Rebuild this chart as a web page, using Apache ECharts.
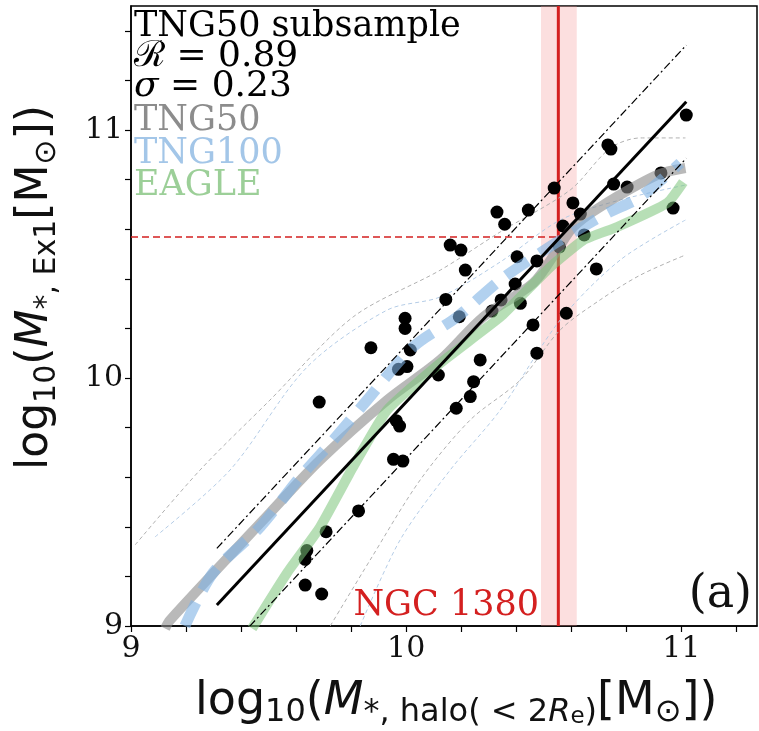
<!DOCTYPE html>
<html><head><meta charset="utf-8">
<script src="https://cdn.jsdelivr.net/npm/echarts@6/dist/echarts.min.js"></script>
<style>html,body{margin:0;padding:0;background:#fff}#c{width:759px;height:731px}</style>
</head><body><div id="c"></div>
<script>
// ---- data ----
const scatterX = [11.018,10.733,10.744,10.926,10.538,10.754,10.803,10.606,10.633,10.970,10.330,10.444,10.358,10.570,10.647,10.557,10.160,10.199,10.403,10.475,10.215,10.691,10.396,10.144,10.345,10.415,10.312,10.193,10.582,9.996,9.996,10.461,10.015,9.872,10.003,9.972,10.117,10.475,10.269,10.245,10.233,10.182,9.684,9.964,9.976,9.954,9.988,9.827,9.709,9.639,9.633,9.633,9.693];
const scatterY = [11.060,10.940,10.923,10.827,10.766,10.782,10.770,10.706,10.661,10.685,10.669,10.677,10.620,10.613,10.577,10.529,10.536,10.516,10.489,10.472,10.435,10.440,10.379,10.317,10.315,10.301,10.270,10.247,10.261,10.241,10.200,10.214,10.113,10.122,10.046,10.035,10.012,10.100,10.073,9.985,9.925,9.878,9.903,9.828,9.806,9.672,9.665,9.464,9.380,9.304,9.269,9.165,9.129];

const tng50X = [9.124,9.142,9.505,9.687,9.931,10.124,10.280,10.462,10.549,10.607,10.705,10.913,11.015];
const tng50Y = [8.99,9.024,9.456,9.669,9.911,10.073,10.246,10.383,10.516,10.609,10.690,10.819,10.847];
const tng100X = [9.196,9.298,9.469,9.615,9.735,9.858,10.025,10.185,10.342,10.487,10.560,10.731,10.851,10.996];
const tng100Y = [9.0,9.214,9.399,9.601,9.750,9.911,10.125,10.246,10.395,10.504,10.556,10.665,10.730,10.867];
const eagleX = [9.44,9.567,9.687,9.807,9.931,10.124,10.342,10.440,10.524,10.644,10.767,10.949,11.007];
const eagleY = [8.99,9.214,9.399,9.641,9.871,10.060,10.246,10.355,10.448,10.556,10.609,10.706,10.790];

const upperAX = [9.015,9.251,9.505,9.807,10.124,10.342,10.596,10.742,10.851,11.015];
const upperAY = [9.327,9.629,9.911,10.246,10.435,10.589,10.758,10.927,10.968,10.968];
const upperBX = [9.087,9.36,9.64,9.931,10.124,10.342,10.56,10.778,11.015];
const upperBY = [9.359,9.629,10.044,10.274,10.327,10.468,10.637,10.718,10.778];
const lowerAX = [9.724,9.869,10.051,10.233,10.415,10.56,10.705,10.851,11.015];
const lowerAY = [9.0,9.266,9.589,9.831,9.992,10.194,10.315,10.415,10.496];
const lowerBX = [9.833,9.978,10.16,10.342,10.56,10.778,11.015];
const lowerBY = [9.0,9.347,9.629,9.871,10.234,10.476,10.637];

const fitX = [9.312, 11.018];
const fitY = [9.085, 11.114];
const sigma = 0.228;

const ngcX = 10.553, ngcY = 10.569, ngcLow = 10.49, ngcHigh = 10.62;
const xTicks = [9, 10, 11];
const yTicks = [9, 10, 11];

const zip = (a, b) => a.map((v, i) => [v, b[i]]);

const chart = echarts.init(document.getElementById('c'), null, {renderer: 'canvas'});
const serif = 'DejaVu Serif';
const sans = 'DejaVu Sans';
const tickFmt = list => v => { const r = Math.round(v); return (Math.abs(v - r) < 1e-6 && list.includes(r)) ? String(r) : ''; };

function thin(x, y, color) {
  return {type: 'line', data: zip(x, y), showSymbol: false, smooth: 0.3, z: 1, silent: true,
    lineStyle: {color: color, width: 1, type: [4, 3]}};
}

const option = {
  animation: false,
  grid: {left: 131, right: 2, top: 6, bottom: 105, show: true, borderColor: '#000', borderWidth: 1.5},
  xAxis: {type: 'value', min: 9, max: 11.275, interval: 0.2,
    axisLine: {show: true, lineStyle: {color: '#000', width: 1.5}},
    axisTick: {show: true, length: 6, lineStyle: {color: '#000', width: 1.2}},
    axisLabel: {formatter: tickFmt(xTicks), fontFamily: serif, fontSize: 30, color: '#111', margin: 8, showMaxLabel: false},
    splitLine: {show: false}},
  yAxis: {type: 'value', min: 9, max: 11.5, interval: 0.2,
    axisLine: {show: true, lineStyle: {color: '#000', width: 1.5}},
    axisTick: {show: true, length: 6, lineStyle: {color: '#000', width: 1.2}},
    axisLabel: {formatter: tickFmt(yTicks), fontFamily: serif, fontSize: 30, color: '#111', margin: 8, showMaxLabel: false},
    splitLine: {show: false}},
  series: [
    {type: 'line', data: [[ngcX, 9], [ngcX, 11.5]], showSymbol: false, z: 1, silent: true,
      lineStyle: {color: '#d42020', width: 3},
      markArea: {silent: true, itemStyle: {color: 'rgba(245,150,150,0.3)'}, data: [[{xAxis: ngcLow}, {xAxis: ngcHigh}]]}},
    {type: 'line', data: [[9, ngcY], [ngcX, ngcY]], showSymbol: false, z: 1, silent: true,
      lineStyle: {color: '#d42020', width: 1.5, type: [7, 4]}},
    thin(upperAX, upperAY, '#b0b0b0'),
    thin(upperBX, upperBY, '#b4cce6'),
    thin(lowerAX, lowerAY, '#b0b0b0'),
    thin(lowerBX, lowerBY, '#b4cce6'),
    {type: 'scatter', data: zip(scatterX, scatterY), symbolSize: 13, z: 2,
      itemStyle: {color: '#000', opacity: 1}},
    {type: 'line', data: zip(tng50X, tng50Y), showSymbol: false, smooth: 0.3, z: 3,
      lineStyle: {color: '#8a8a8a', width: 10, opacity: 0.6}},
    {type: 'line', data: zip(tng100X, tng100Y), showSymbol: false, smooth: 0.3, z: 3,
      lineStyle: {color: '#7fb2e5', width: 11, opacity: 0.6, type: [26, 14]}},
    {type: 'line', data: zip(eagleX, eagleY), showSymbol: false, smooth: 0.15, z: 3,
      lineStyle: {color: '#7cc47a', width: 10, opacity: 0.55}},
    {type: 'line', data: zip(fitX, fitY), showSymbol: false, z: 4,
      lineStyle: {color: '#000', width: 3}},
    {type: 'line', data: zip(fitX, fitY.map(v => v + sigma)), showSymbol: false, z: 4,
      lineStyle: {color: '#000', width: 1.2, type: [8, 3, 2, 3]}},
    {type: 'line', data: zip(fitX, fitY.map(v => v - sigma)), showSymbol: false, z: 4,
      lineStyle: {color: '#000', width: 1.2, type: [8, 3, 2, 3]}}
  ],
  graphic: [
    {type: 'text', left: 134, top: 9, z: 10, style: {text: 'TNG50 subsample', font: '35px "DejaVu Serif"', fill: '#000'}},
    {type: 'text', left: 134, top: 39, z: 10, style: {text: 'ℛ = 0.89', font: '36px "DejaVu Serif"', fill: '#000'}},
    {type: 'text', left: 134, top: 69, z: 10, style: {text: '{i|σ} = 0.23', font: '36px "DejaVu Serif"', fill: '#000',
      rich: {i: {fontStyle: 'italic', fontFamily: serif, fontSize: 36, fill: '#000'}}}},
    {type: 'text', left: 134, top: 103, z: 10, style: {text: 'TNG50', font: '35px "DejaVu Serif"', fill: '#8c8c8c'}},
    {type: 'text', left: 134, top: 136, z: 10, style: {text: 'TNG100', font: '35px "DejaVu Serif"', fill: '#a3c6e8'}},
    {type: 'text', left: 134, top: 168, z: 10, style: {text: 'EAGLE', font: '35px "DejaVu Serif"', fill: '#9ccf98'}},
    {type: 'text', right: 220, top: 588, z: 10, style: {text: 'NGC 1380', font: '35px "DejaVu Serif"', fill: '#d42020'}},
    {type: 'text', right: 7, top: 572, z: 10, style: {text: '(a)', font: '46px "DejaVu Serif"', fill: '#111'}},
    {type: 'text', left: 195, top: 679, z: 10, style: {
      text: '{n|log}{s|10}{n|(}{i|M}{s|*, halo( < 2}{si|R}{ss|e}{s|)}{n|[M}{s|⊙}{n|])}',
      rich: {
        n: {fontFamily: sans, fontSize: 46, lineHeight: 54, fill: '#111'},
        i: {fontFamily: sans, fontStyle: 'italic', fontSize: 46, lineHeight: 54, fill: '#111'},
        s: {fontFamily: sans, fontSize: 32, lineHeight: 24, verticalAlign: 'bottom', fill: '#111'},
        si: {fontFamily: sans, fontStyle: 'italic', fontSize: 32, lineHeight: 24, verticalAlign: 'bottom', fill: '#111'},
        ss: {fontFamily: sans, fontSize: 23, lineHeight: 13, verticalAlign: 'bottom', fill: '#111'}
      }}},
    {type: 'text', x: 10, y: 470, rotation: Math.PI / 2, z: 10, style: {
      text: '{n|log}{s|10}{n|(}{i|M}{s|*, Ex1}{n|[M}{s|⊙}{n|])}',
      rich: {
        n: {fontFamily: sans, fontSize: 44, lineHeight: 52, fill: '#111'},
        i: {fontFamily: sans, fontStyle: 'italic', fontSize: 44, lineHeight: 52, fill: '#111'},
        s: {fontFamily: sans, fontSize: 30, lineHeight: 22, verticalAlign: 'bottom', fill: '#111'}
      }}}
  ]
};
chart.setOption(option);
</script></body></html>
